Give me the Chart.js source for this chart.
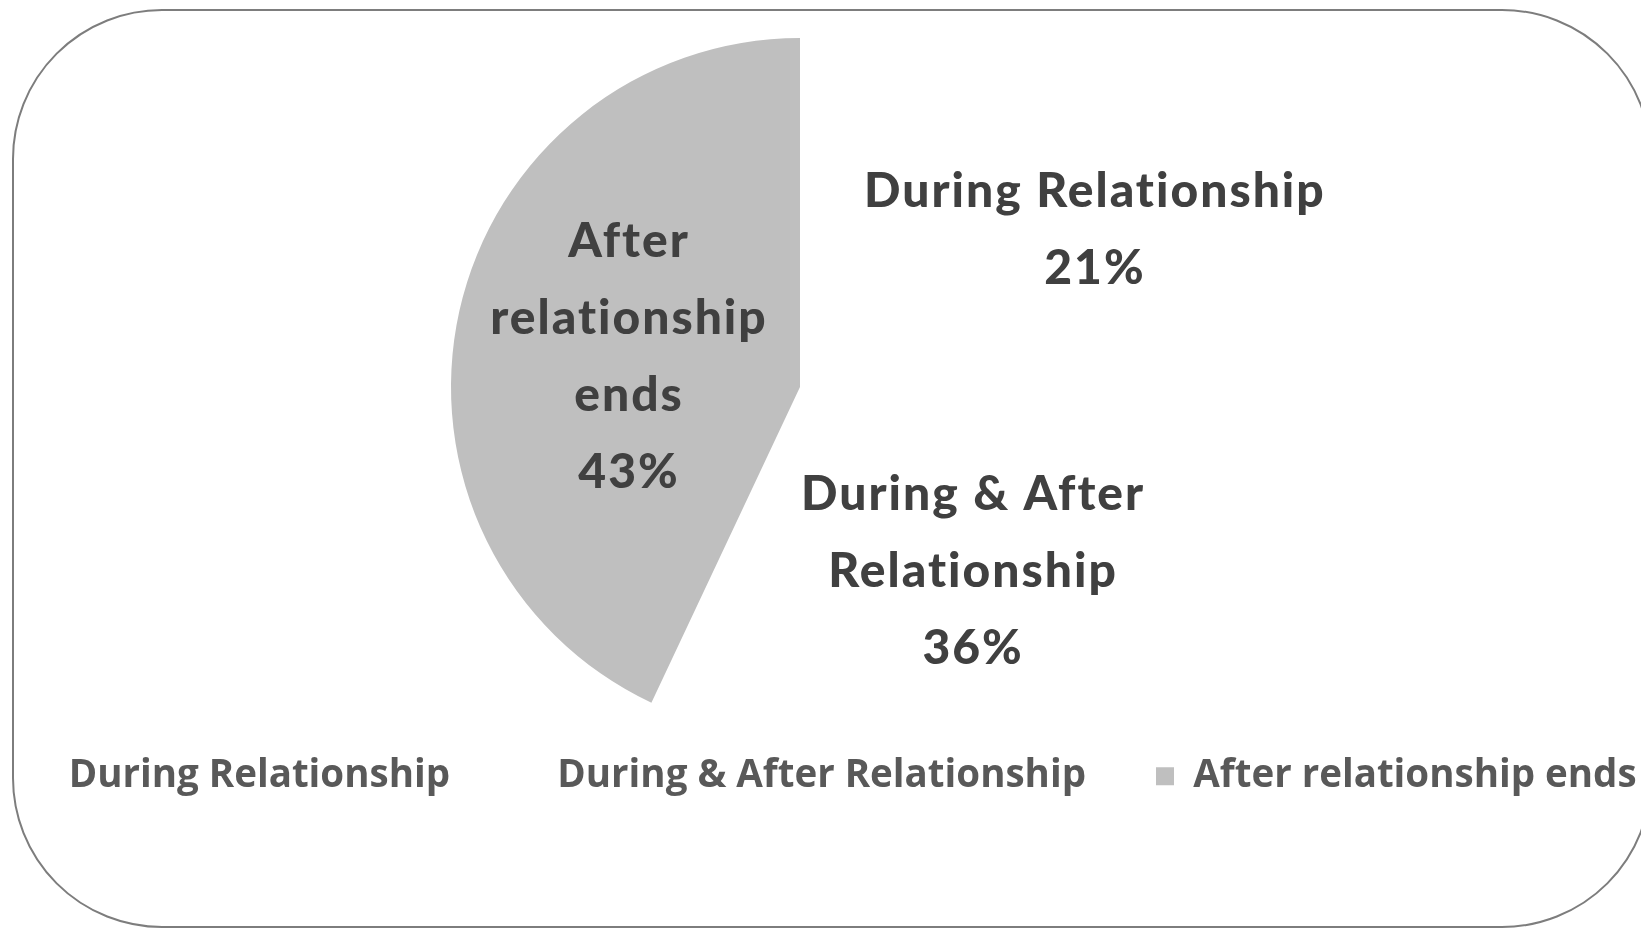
<!DOCTYPE html>
<html>
<head>
<meta charset="utf-8">
<script src="https://cdn.jsdelivr.net/npm/chart.js@4"></script>
<style>
html, body { margin: 0; padding: 0; background: #fff; overflow: hidden; width: 1641px; height: 929px; }
#frame { position: absolute; left: 12px; top: 9px; width: 1640px; height: 919px; border: 2px solid #7d7d7d; border-radius: 150px; box-sizing: border-box; }
#wrap { position: absolute; left: -90px; top: 0; width: 1800px; height: 929px; }
</style>
</head>
<body>
<div id="frame"></div>
<div id="wrap"><canvas id="pie"></canvas></div>
<script>
const categories = ['During Relationship', 'During & After Relationship', 'After relationship ends'];
const shares = [21, 36, 43];
const labelLines = [['During Relationship'], ['During & After', 'Relationship'], ['After', 'relationship', 'ends']];
const sliceColors = ['#ffffff', '#ffffff', '#bfbfbf'];

// label block centres, as fractions of the pie radius from its centre
const labelOffsets = [[0.845, -0.45], [0.496, 0.53], [-0.49, -0.086]];

const sliceLabels = {
    id: 'sliceLabels',
    afterDatasetsDraw(chart) {
        const ctx = chart.ctx;
        const arcs = chart.getDatasetMeta(0).data;
        ctx.save();
        ctx.font = '900 48px Lato';
        ctx.letterSpacing = '2px';
        ctx.fillStyle = '#404040';
        ctx.textAlign = 'center';
        ctx.textBaseline = 'middle';
        arcs.forEach((arc, i) => {
            const r = arc.outerRadius;
            const cx = arc.x + labelOffsets[i][0] * r;
            const cy = arc.y + labelOffsets[i][1] * r;
            const lines = labelLines[i].concat([shares[i] + '%']);
            const lh = 77;
            lines.forEach((t, j) => ctx.fillText(t, cx, cy + (j - (lines.length - 1) / 2) * lh));
        });
        ctx.restore();
    }
};

// legend sits closer to the pie and a bit right of the pie's centre line
const legendShift = {
    id: 'legendShift',
    afterLayout(chart) {
        chart.legend.top -= 49;
        chart.legend.bottom -= 49;
        chart.legend.left += 34;
        chart.legend.right += 34;
    }
};

new Chart(document.getElementById('pie'), {
    type: 'pie',
    data: {
        labels: categories,
        datasets: [{ data: shares, backgroundColor: sliceColors, borderWidth: 0 }]
    },
    options: {
        responsive: true,
        maintainAspectRatio: false,
        animation: false,
        layout: { padding: { top: 38, bottom: 74.5, left: 0, right: 20 } },
        plugins: {
            tooltip: { enabled: false },
            legend: {
                position: 'bottom',
                labels: {
                    boxWidth: 18,
                    boxHeight: 18,
                    padding: 70,
                    color: '#595959',
                    font: { family: 'Open Sans', size: 38.5, weight: 'bold' }
                }
            }
        }
    },
    plugins: [sliceLabels, legendShift]
});
</script>
</body>
</html>
